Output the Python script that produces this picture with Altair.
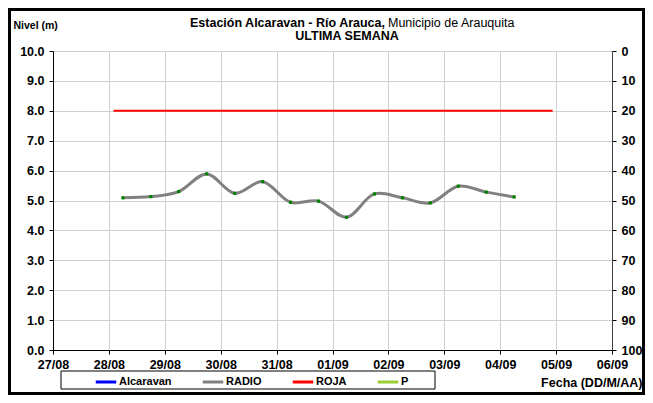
import altair as alt
import pandas as pd

# ---------------- data ----------------
fechas = [
    "2013-08-28T06:00:00", "2013-08-28T18:00:00",
    "2013-08-29T06:00:00", "2013-08-29T18:00:00",
    "2013-08-30T06:00:00", "2013-08-30T18:00:00",
    "2013-08-31T06:00:00", "2013-08-31T18:00:00",
    "2013-09-01T06:00:00", "2013-09-01T18:00:00",
    "2013-09-02T06:00:00", "2013-09-02T18:00:00",
    "2013-09-03T06:00:00", "2013-09-03T18:00:00",
    "2013-09-04T06:00:00",
]
radio = [5.09, 5.13, 5.30, 5.89, 5.24, 5.63, 4.94, 4.98, 4.44, 5.22,
         5.09, 4.92, 5.48, 5.28, 5.12]

roja_fechas = ["2013-08-28T02:00:00", "2013-09-04T22:30:00"]
roja_valor = [8.0, 8.0]

series = ["Alcaravan", "RADIO", "ROJA", "P"]
colores = ["#0000ff", "#808080", "#ff0000", "#99cc33"]

dias_ticks = [(8, 27), (8, 28), (8, 29), (8, 30), (8, 31), (9, 1),
              (9, 2), (9, 3), (9, 4), (9, 5), (9, 6)]
nivel_ticks = [0, 1, 2, 3, 4, 5, 6, 7, 8, 9, 10]
p_ticks = [0, 10, 20, 30, 40, 50, 60, 70, 80, 90, 100]

titulo_negrita = "Estación Alcaravan - Río Arauca,"
titulo_normal = "Municipio de Arauquita"
subtitulo = "ULTIMA SEMANA"

# ---------------- tables ----------------
df_radio = pd.DataFrame({"fecha": fechas, "nivel": radio, "serie": "RADIO"})
df_roja = pd.DataFrame({"fecha": roja_fechas, "nivel": roja_valor, "serie": "ROJA"})

FONT = "Liberation Sans"
PAD_L, PAD_T, PAD_R, PAD_B = 45, 43, 33, 45
W, H = 559, 299
TOTAL_W = PAD_L + W + PAD_R   # 637
TOTAL_H = PAD_T + H + PAD_B   # 387

x_dom = [alt.DateTime(year=2013, month=8, date=27),
         alt.DateTime(year=2013, month=9, date=6)]
x_vals = [alt.DateTime(year=2013, month=m, date=d) for m, d in dias_ticks]

x_enc = alt.X(
    "fecha:T",
    scale=alt.Scale(domain=x_dom),
    axis=alt.Axis(
        values=x_vals, format="%d/%m", labelFontWeight="bold", labelFontSize=12.5,
        labelColor="black", labelPadding=4, tickSize=4, tickColor="black",
        domainColor="black", gridColor="#d0d0d0", labelFlush=False,
        title="Fecha (DD/M/AA)", titleFontWeight="bold", titleFontSize=12.5,
        titleX=TOTAL_W - PAD_L - 3, titleY=32, titleAlign="right",
        titleBaseline="middle", titleColor="black",
    ),
)

y_enc = alt.Y(
    "nivel:Q",
    scale=alt.Scale(domain=[0, 10], nice=False),
    axis=alt.Axis(
        values=nivel_ticks, format=".1f", labelFontWeight="bold", labelFontSize=12.5,
        labelColor="black", labelPadding=5, tickSize=4, tickColor="black",
        domainColor="black", gridColor="#d0d0d0",
        title="Nivel (m)", titleAngle=0, titleAlign="left", titleBaseline="middle",
        titleX=-40, titleY=-26, titleFontWeight="bold", titleFontSize=10.5,
        titleColor="black",
    ),
)

stroke_enc = alt.Stroke(
    "serie:N",
    scale=alt.Scale(domain=series, range=colores),
    legend=alt.Legend(
        orient="none", legendX=41, legendY=319, direction="horizontal",
        title=None, symbolType="stroke", symbolSize=420, symbolStrokeWidth=3,
        labelFontWeight="bold", labelFontSize=11, labelColor="black",
        labelOffset=1, columnPadding=24, padding=0, gridAlign="none",
    ),
)

linea_radio = alt.Chart(df_radio).mark_line(
    interpolate="catmull-rom", strokeWidth=3
).encode(x=x_enc, y=y_enc, stroke=stroke_enc)

puntos_radio = alt.Chart(df_radio).mark_square(
    size=10, color="#008000", opacity=1
).encode(x=x_enc, y=y_enc)

linea_roja = alt.Chart(df_roja).mark_line(strokeWidth=2).encode(
    x=x_enc, y=y_enc, stroke=stroke_enc
)

izquierda = alt.layer(linea_radio, linea_roja, puntos_radio)

derecha = alt.Chart(alt.Data(values=[{}])).mark_point(opacity=0).encode(
    y=alt.Y(
        datum=0,
        type="quantitative",
        scale=alt.Scale(domain=[0, 100], reverse=True, nice=False),
        axis=alt.Axis(
            orient="right", values=p_ticks, format="d", grid=False,
            labelFontWeight="bold", labelFontSize=12.5, labelColor="black",
            labelPadding=5, tickSize=4, tickColor="black", domainColor="#404040",
            title=None,
        ),
    )
)

uno = alt.Data(values=[{}])
t1 = alt.Chart(uno).mark_text(
    text=titulo_negrita, font=FONT, fontSize=12.5, fontWeight="bold",
    align="right", baseline="middle", color="black",
).encode(x=alt.value(332), y=alt.value(-28.5))
t2 = alt.Chart(uno).mark_text(
    text=titulo_normal, font=FONT, fontSize=12.5, fontWeight="normal",
    align="left", baseline="middle", color="black",
).encode(x=alt.value(335), y=alt.value(-28.5))
t3 = alt.Chart(uno).mark_text(
    text=subtitulo, font=FONT, fontSize=12.5, fontWeight="bold",
    align="center", baseline="middle", color="black",
).encode(x=alt.value(294), y=alt.value(-15.5))

caja_leyenda = alt.Chart(uno).mark_rect(
    filled=False, stroke="black", strokeWidth=1
).encode(x=alt.value(8), x2=alt.value(382), y=alt.value(320), y2=alt.value(338))

marco = alt.Chart(uno).mark_rect(
    filled=False, stroke="black", strokeWidth=3
).encode(
    x=alt.value(-PAD_L + 1.5), x2=alt.value(TOTAL_W - PAD_L - 1.5),
    y=alt.value(-PAD_T + 1.5), y2=alt.value(TOTAL_H - PAD_T - 1.5),
)

chart = alt.layer(izquierda, derecha, t1, t2, t3, caja_leyenda, marco).resolve_scale(
    y="independent"
).properties(
    width=W, height=H,
    padding={"left": PAD_L, "top": PAD_T, "right": PAD_R, "bottom": PAD_B},
    autosize=alt.AutoSizeParams(type="none"),
    background="white",
).configure(font=FONT).configure_view(strokeWidth=0)

chart.save("out.html", embed_options={"renderer": "svg", "actions": False})
